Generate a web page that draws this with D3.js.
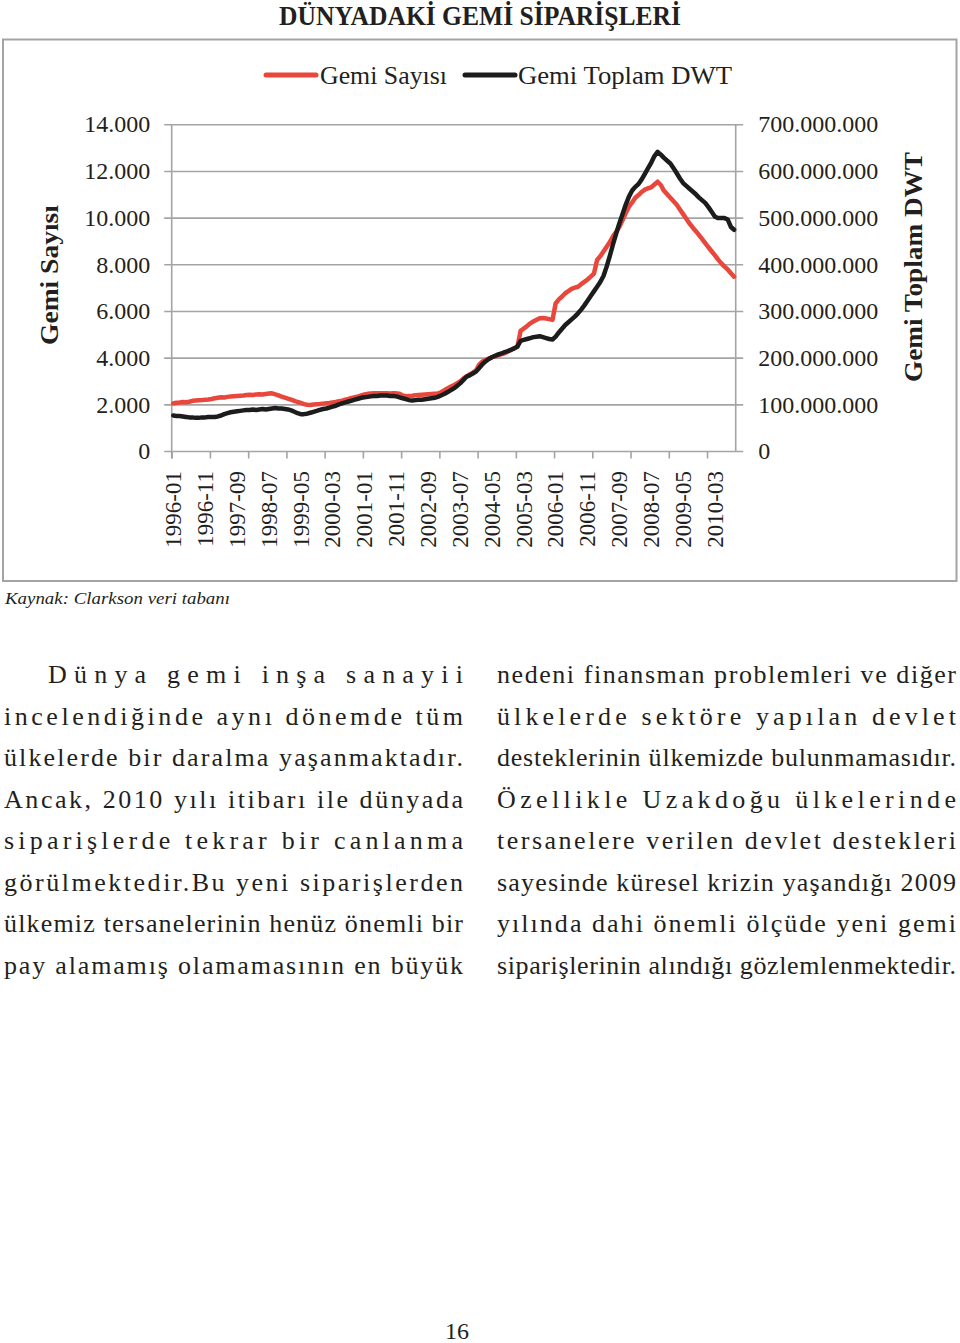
<!DOCTYPE html>
<html><head><meta charset="utf-8">
<script src="https://cdnjs.cloudflare.com/ajax/libs/d3/7.8.5/d3.min.js"></script>
<style>
html,body{margin:0;padding:0;background:#fff;}
svg{display:block;}
</style></head>
<body>
<svg id="c" width="960" height="1343"></svg>
<script>
// ---------- DATA ----------
const startYear = 1996, monthCount = 177; // 1996-01 .. 2010-09
const tickLabels = ["1996-01","1996-11","1997-09","1998-07","1999-05","2000-03","2001-01","2001-11","2002-09","2003-07","2004-05","2005-03","2006-01","2006-11","2007-09","2008-07","2009-05","2010-03"];
const leftTicks = [0,2000,4000,6000,8000,10000,12000,14000];
const rightTicks = [0,100e6,200e6,300e6,400e6,500e6,600e6,700e6];
// Gemi Sayısı (number of ships on order), monthly
const gemiSayisi = [
 2040,2070,2080,2100,2090,2110,2150,2160,2170,2180,2200,2210,
 2230,2260,2280,2300,2290,2320,2340,2350,2360,2370,2380,2400,
 2410,2400,2420,2430,2420,2440,2460,2470,2430,2380,2330,2290,
 2240,2200,2150,2100,2060,2010,1980,1970,1990,2000,2010,2030,
 2050,2060,2080,2100,2130,2160,2200,2230,2270,2310,2340,2380,
 2420,2450,2460,2470,2480,2470,2480,2470,2460,2470,2470,2450,
 2380,2350,2360,2370,2390,2400,2410,2420,2430,2440,2450,2460,
 2520,2600,2680,2750,2820,2900,2980,3100,3200,3280,3360,3450,
 3700,3830,3900,3960,4020,4060,4100,4150,4190,4260,4330,4400,
 4470,5150,5250,5350,5470,5550,5620,5690,5700,5680,5650,5620,
 6330,6500,6620,6760,6850,6950,7000,7040,7150,7250,7350,7470,
 7600,8185,8350,8550,8755,8950,9200,9400,9610,9900,10200,10470,
 10650,10850,10970,11100,11200,11260,11300,11420,11540,11400,11150,11000,
 10850,10700,10550,10350,10150,9950,9750,9580,9420,9250,9080,8900,
 8720,8550,8380,8200,8040,7900,7780,7620,7470
];
// Gemi Toplam DWT (millions of DWT), monthly
const gemiDWTmillion = [
 76,75,75,74,73,72,72,71,71,72,72,73,
 73,73,74,76,79,81,83,84,85,86,87,88,
 88,89,88,89,90,89,90,91,92,91,91,90,
 89,87,84,81,79,79,80,82,84,86,88,90,
 91,93,95,97,100,102,104,106,108,110,112,114,
 115,116,117,118,118,119,119,119,118,118,117,115,
 113,111,109,108,109,110,110,111,112,113,114,116,
 119,122,126,130,134,139,145,152,159,162,166,170,
 178,186,192,197,201,204,207,209,212,214,217,220,
 224,236,238,240,242,244,245,246,244,242,240,239,
 245,254,262,270,276,282,288,295,303,312,322,332,
 342,352,362,375,395,418,443,466,488,508,528,545,
 558,566,572,582,594,606,618,632,641,635,628,622,
 616,606,595,584,574,568,562,556,550,543,537,531,
 522,512,502,499,499,499,496,480,474
];
const seriesNames = ["Gemi Sayısı","Gemi Toplam DWT"];
const seriesColors = ["#e9473b","#1c1c1c"];

const leftColumn = [
 "Dünya gemi inşa sanayii",
 "incelendiğinde aynı dönemde tüm",
 "ülkelerde bir daralma yaşanmaktadır.",
 "Ancak, 2010 yılı itibarı ile dünyada",
 "siparişlerde tekrar bir canlanma",
 "görülmektedir.Bu yeni siparişlerden",
 "ülkemiz tersanelerinin henüz önemli bir",
 "pay alamamış olamamasının en büyük"
];
const rightColumn = [
 "nedeni finansman problemleri ve diğer",
 "ülkelerde sektöre yapılan devlet",
 "desteklerinin ülkemizde bulunmamasıdır.",
 "Özellikle Uzakdoğu ülkelerinde",
 "tersanelere verilen devlet destekleri",
 "sayesinde küresel krizin yaşandığı 2009",
 "yılında dahi önemli ölçüde yeni gemi",
 "siparişlerinin alındığı gözlemlenmektedir."
];

// ---------- BUILD ----------
const months = [];
for (let i = 0; i < monthCount; i++) {
  const y = startYear + Math.floor(i / 12), m = (i % 12) + 1;
  months.push(y + "-" + (m < 10 ? "0" + m : m));
}
const rows = months.map((m, i) => ({m, count: gemiSayisi[i], dwt: gemiDWTmillion[i] * 1e6}));

const svg = d3.select("#c");
const serif = "'Liberation Serif','Times New Roman',serif";
const gray = "#a4a4a4", ink = "#231f20";
const L = 171.7, R = 735.7, T = 124.3, B = 451;
const tick = 7.5;

const loc = d3.formatLocale({decimal: ",", thousands: ".", grouping: [3], currency: ["", ""]});
const fmt = loc.format(",d");

// title
svg.append("text").attr("x", 480).attr("y", 25).attr("text-anchor", "middle")
  .attr("font-family", serif).attr("font-weight", "bold").attr("font-size", 27)
  .attr("fill", ink).attr("textLength", 402).attr("lengthAdjust", "spacingAndGlyphs")
  .text("DÜNYADAKİ GEMİ SİPARİŞLERİ");

// frame
svg.append("rect").attr("x", 3).attr("y", 39.5).attr("width", 953.5).attr("height", 541.5)
  .attr("fill", "none").attr("stroke", gray).attr("stroke-width", 2);

// scales
const x = d3.scaleBand().domain(months).range([L, R]).padding(0);
const xi = d3.scaleLinear().domain([0, monthCount]).range([L, R]);
const yL = d3.scaleLinear().domain([0, 14000]).range([B, T]);
const yR = d3.scaleLinear().domain([0, 700e6]).range([B, T]);
const cx = m => x(m) + x.bandwidth() / 2;

// gridlines (span both tick zones)
const grid = svg.append("g").attr("transform", `translate(${L - tick},0)`)
  .call(d3.axisRight(yL).tickValues(leftTicks).tickSize(R - L + 2 * tick).tickFormat(""));
grid.select(".domain").remove();
grid.selectAll("line").attr("stroke", gray).attr("stroke-width", 1.6);

// left axis labels + line
const ga = svg.append("g").attr("transform", `translate(${L},0)`)
  .call(d3.axisLeft(yL).tickValues(leftTicks).tickSize(0).tickPadding(tick + 14).tickFormat(fmt));
ga.select(".domain").remove();
ga.selectAll("text").attr("font-family", serif).attr("font-size", 24).attr("fill", ink);
svg.append("line").attr("x1", L).attr("x2", L).attr("y1", T).attr("y2", B + tick)
  .attr("stroke", gray).attr("stroke-width", 1.6);

// right axis labels + line
const gr = svg.append("g").attr("transform", `translate(${R},0)`)
  .call(d3.axisRight(yR).tickValues(rightTicks).tickSize(0).tickPadding(tick + 15).tickFormat(fmt));
gr.select(".domain").remove();
gr.selectAll("text").attr("font-family", serif).attr("font-size", 24).attr("fill", ink);
svg.append("line").attr("x1", R).attr("x2", R).attr("y1", T).attr("y2", B)
  .attr("stroke", gray).attr("stroke-width", 1.6);

// x axis tick marks (yearly, at category boundaries)
const yearTicks = d3.range(0, monthCount, 12);
const gxt = svg.append("g").attr("transform", `translate(0,${B})`)
  .call(d3.axisBottom(xi).tickValues(yearTicks).tickSize(tick).tickFormat(""));
gxt.select(".domain").remove();
gxt.selectAll("line").attr("stroke", gray).attr("stroke-width", 1.6);

// x axis labels (every 10 months)
const gx = svg.append("g").attr("transform", `translate(0,${B})`)
  .call(d3.axisBottom(x).tickValues(tickLabels).tickSize(0).tickPadding(0));
gx.select(".domain").remove();
gx.selectAll("text").attr("font-family", serif).attr("font-size", 23).attr("fill", ink)
  .attr("text-anchor", "end").attr("transform", "translate(0,20) rotate(-90)")
  .attr("x", 0).attr("y", 0).attr("dy", "0.34em");

// axis titles
svg.append("text").attr("transform", "translate(58,275) rotate(-90)").attr("text-anchor", "middle")
  .attr("font-family", serif).attr("font-weight", "bold").attr("font-size", 25).attr("fill", ink)
  .attr("textLength", 140).attr("lengthAdjust", "spacingAndGlyphs").text("Gemi Sayısı");
svg.append("text").attr("transform", "translate(922,267) rotate(-90)").attr("text-anchor", "middle")
  .attr("font-family", serif).attr("font-weight", "bold").attr("font-size", 25).attr("fill", ink)
  .attr("textLength", 230).attr("lengthAdjust", "spacingAndGlyphs").text("Gemi Toplam DWT");

// lines
const lineCount = d3.line().x(d => cx(d.m)).y(d => yL(d.count)).curve(d3.curveLinear);
const lineDwt = d3.line().x(d => cx(d.m)).y(d => yR(d.dwt)).curve(d3.curveLinear);
svg.append("path").datum(rows).attr("d", lineCount).attr("fill", "none")
  .attr("stroke", seriesColors[0]).attr("stroke-width", 4.5).attr("stroke-linejoin", "round").attr("stroke-linecap", "round");
svg.append("path").datum(rows).attr("d", lineDwt).attr("fill", "none")
  .attr("stroke", seriesColors[1]).attr("stroke-width", 4.5).attr("stroke-linejoin", "round").attr("stroke-linecap", "round");

// legend
const legend = [
  {x1: 266, x2: 316, tx: 320, tw: 127},
  {x1: 465, x2: 515, tx: 518, tw: 214}
];
legend.forEach((l, i) => {
  svg.append("line").attr("x1", l.x1).attr("x2", l.x2).attr("y1", 75).attr("y2", 75)
    .attr("stroke", seriesColors[i]).attr("stroke-width", 5).attr("stroke-linecap", "round");
  svg.append("text").attr("x", l.tx).attr("y", 83.5).attr("font-family", serif).attr("font-size", 25)
    .attr("fill", ink).attr("textLength", l.tw).attr("lengthAdjust", "spacingAndGlyphs").text(seriesNames[i]);
});

// source
svg.append("text").attr("x", 5).attr("y", 604).attr("font-family", serif).attr("font-style", "italic")
  .attr("font-size", 17).attr("fill", ink).attr("textLength", 225).attr("lengthAdjust", "spacingAndGlyphs")
  .text("Kaynak: Clarkson veri tabanı");

// body text columns (justified)
function column(lines, x0, x1, indent) {
  lines.forEach((t, i) => {
    const sx = x0 + (i === 0 ? indent : 0);
    svg.append("text").attr("x", sx).attr("y", 683 + i * 41.5)
      .attr("font-family", serif).attr("font-size", 26).attr("fill", ink)
      .attr("textLength", x1 - sx).attr("lengthAdjust", "spacing").text(t);
  });
}
column(leftColumn, 4, 463, 44);
column(rightColumn, 497, 956, 0);

// page number
svg.append("text").attr("x", 457).attr("y", 1339).attr("text-anchor", "middle")
  .attr("font-family", serif).attr("font-size", 24).attr("fill", ink).text("16");
</script>
</body></html>
